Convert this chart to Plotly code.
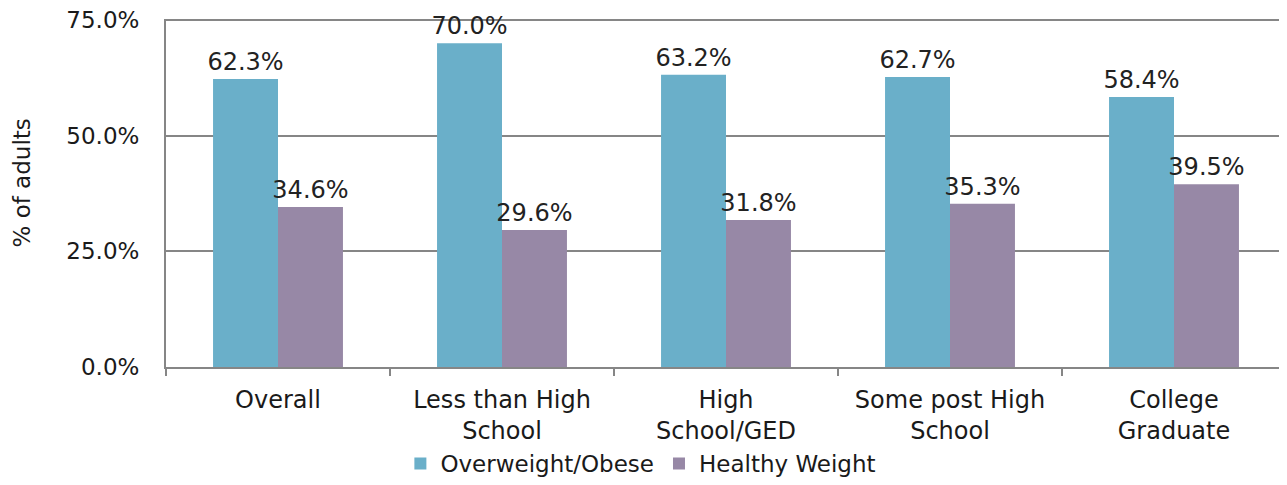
import plotly.graph_objects as go

categories = ["Overall", "Less than High<br>School", "High<br>School/GED", "Some post High<br>School", "College<br>Graduate"]
overweight = [62.3, 70.0, 63.2, 62.7, 58.4]
healthy = [34.6, 29.6, 31.8, 35.3, 39.5]
tick_vals = [0, 25, 50, 75]
tick_text = ["0.0%", "25.0%", "50.0%", "75.0%"]

FONT = "DejaVu Sans"
FS = 23
fig = go.Figure()
fig.add_bar(x=categories, y=overweight, name="Overweight/Obese", marker_color="#6AAFC9",
            marker_line_width=0,
            text=[f"{v:.1f}%" for v in overweight], textposition="outside", cliponaxis=False,
            constraintext="none",
            textfont=dict(size=24, color="#222222"))
fig.add_bar(x=categories, y=healthy, name="Healthy Weight", marker_color="#9788A6",
            marker_line_width=0,
            text=[f"{v:.1f}%" for v in healthy], textposition="outside", cliponaxis=False,
            constraintext="none",
            textfont=dict(size=24, color="#222222"))

fig.update_layout(
    width=1279, height=477,
    margin=dict(l=158, r=1, t=11, b=118),
    paper_bgcolor="white", plot_bgcolor="white",
    font=dict(family=FONT, size=FS, color="#1a1a1a"),
    barmode="group", bargap=0.42, bargroupgap=0,
    showlegend=True,
    legend=dict(orientation="h", x=0.424, xanchor="center",
                yref="container", y=0.0, yanchor="bottom",
                font=dict(size=FS), itemwidth=30, tracegroupgap=0),
    uniformtext=dict(mode=False),
    annotations=[dict(text="% of adults", textangle=-90, x=-0.1286, y=0.53,
                      xref="paper", yref="paper", showarrow=False,
                      xanchor="center", yanchor="middle",
                      font=dict(size=FS, color="#1a1a1a"))],
)
fig.update_xaxes(showline=True, linecolor="#868686", linewidth=2, ticks="outside",
                 tickson="boundaries", ticklen=7, tickcolor="#868686", tickwidth=2,
                 automargin=False, ticklabelstandoff=10,
                 tickfont=dict(size=24, color="#1a1a1a"))
fig.update_yaxes(range=[0, 75.25], tickvals=tick_vals, ticktext=tick_text,
                 showgrid=True, gridcolor="#868686", gridwidth=2,
                 showline=True, linecolor="#868686", linewidth=2,
                 ticks="outside", ticklen=20, tickcolor="rgba(0,0,0,0)",
                 zeroline=False, automargin=False, ticklabeloverflow="allow",
                 tickfont=dict(size=FS, color="#1a1a1a"))

fig.write_html("out.html")
